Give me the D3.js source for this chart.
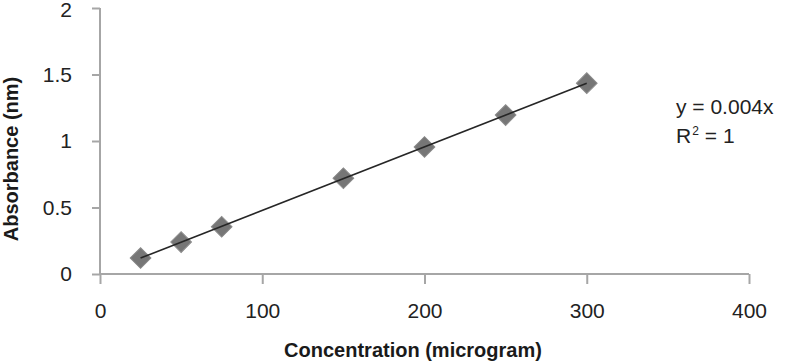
<!DOCTYPE html>
<html lang="en">

<head>
    <meta charset="utf-8">
    <script src='https://d3js.org/d3.v7.min.js'></script>
    <style>
        body { margin: 0; background: #fff; }
        svg text { font-family: "Liberation Sans", Arial, sans-serif; }
    </style>
</head>

<body>

    <script>

        // data
        var concentration = [25, 50, 75, 150, 200, 250, 300];
        var absorbance = [0.12, 0.24, 0.355, 0.72, 0.955, 1.195, 1.435];
        var xTicks = [0, 100, 200, 300, 400];
        var yTicks = [0, 0.5, 1, 1.5, 2];
        var equationLines = ["y = 0.004x", "R", "= 1"];

        var width = 792,
            height = 362;

        var svg = d3.select("body").append("svg")
            .attr("width", width)
            .attr("height", height);

        var x = d3.scaleLinear().domain([0, 400]).range([100, 749]);
        var y = d3.scaleLinear().domain([0, 2]).range([274, 8]);

        var axisColor = "#a6a6a6";

        var xAxis = svg.append("g")
            .attr("transform", "translate(0," + y(0) + ")")
            .call(d3.axisBottom(x).tickValues(xTicks).tickSize(10).tickPadding(19)
                .tickFormat(d3.format("d")));

        var yAxis = svg.append("g")
            .attr("transform", "translate(" + x(0) + ",0)")
            .call(d3.axisLeft(y).tickValues(yTicks).tickSize(8).tickPadding(20)
                .tickFormat(function (d) { return String(d); }));

        [xAxis, yAxis].forEach(function (g) {
            g.select(".domain").attr("stroke", axisColor).attr("stroke-width", 2);
            g.selectAll(".tick line").attr("stroke", axisColor).attr("stroke-width", 2);
            g.selectAll(".tick text")
                .attr("fill", "#222")
                .style("font-size", "21px");
        });
        // excel style: axis line ends at the outer ticks
        xAxis.select(".domain").attr("d", "M" + x(0) + ",0H" + x(400));
        yAxis.select(".domain").attr("d", "M0," + y(2) + "V" + y(0));
        // keep the top label inside the picture
        yAxis.selectAll(".tick text").filter(function (d) { return d === 2; }).attr("dy", "0.4em");

        // linear trendline through origin (least squares)
        var sxy = d3.sum(concentration, function (c, i) { return c * absorbance[i]; });
        var sxx = d3.sum(concentration, function (c) { return c * c; });
        var slope = sxy / sxx;
        var ext = d3.extent(concentration);

        var line = d3.line()
            .x(function (d) { return x(d); })
            .y(function (d) { return y(slope * d); });

        var diamond = d3.symbol().type(d3.symbolSquare).size(215);

        svg.selectAll(".pt")
            .data(concentration)
            .enter().append("path")
            .attr("class", "pt")
            .attr("d", diamond)
            .attr("transform", function (d, i) {
                return "translate(" + x(d) + "," + y(absorbance[i]) + ") rotate(45)";
            })
            .attr("fill", "#767676")
            .attr("stroke", "#8c8c8c")
            .attr("stroke-width", 1);

        // trendline drawn over the markers
        svg.append("path")
            .datum(ext)
            .attr("d", line)
            .attr("fill", "none")
            .attr("stroke", "#262626")
            .attr("stroke-width", 1.6);

        // axis titles
        svg.append("text")
            .attr("x", 413)
            .attr("y", 357)
            .attr("text-anchor", "middle")
            .style("font-size", "20px")
            .style("font-weight", "bold")
            .attr("fill", "#1a1a1a")
            .text("Concentration (microgram)");

        svg.append("text")
            .attr("transform", "translate(18,159) rotate(-90)")
            .attr("text-anchor", "middle")
            .style("font-size", "20px")
            .style("font-weight", "bold")
            .attr("fill", "#1a1a1a")
            .text("Absorbance (nm)");

        // equation label
        var eq = svg.append("g").attr("fill", "#222").style("font-size", "21px");
        eq.append("text").attr("x", 676).attr("y", 114).text(equationLines[0]);
        var r2 = eq.append("text").attr("x", 676).attr("y", 142.5);
        r2.append("tspan").text(equationLines[1]);
        r2.append("tspan").attr("dy", -8).attr("dx", 1).style("font-size", "12px").text("2");
        r2.append("tspan").attr("dy", 8).attr("dx", 6).text(equationLines[2]);

    </script>

</body>

</html>
